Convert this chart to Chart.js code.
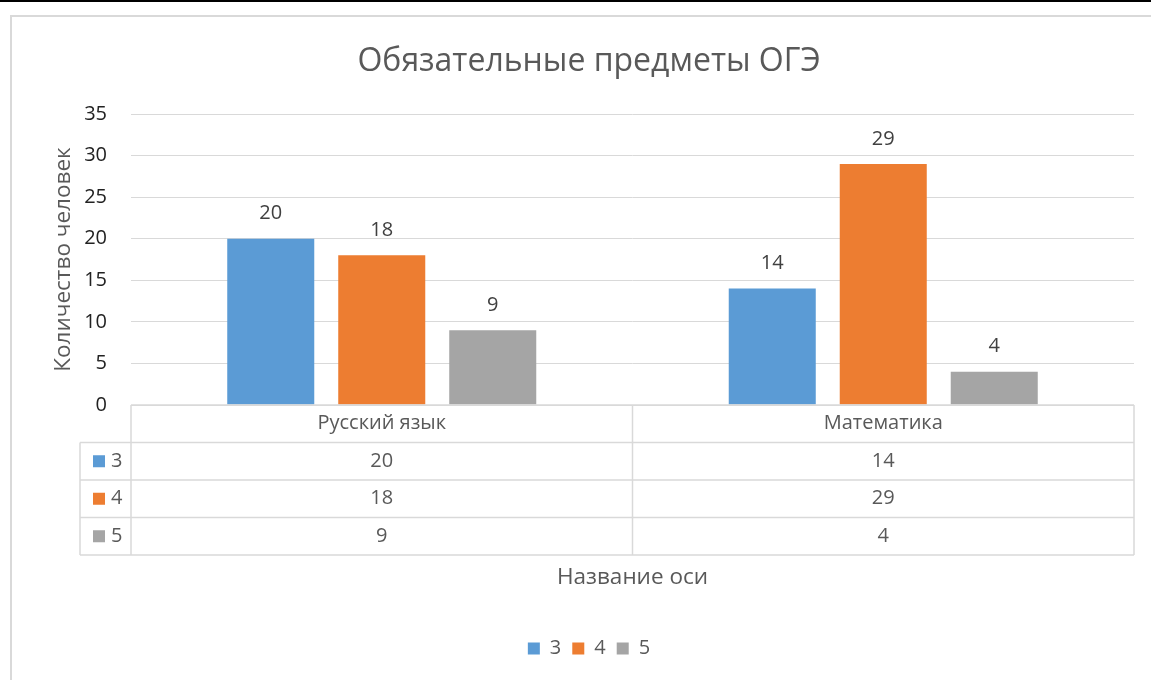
<!DOCTYPE html>
<html><head><meta charset="utf-8">
<script src="https://cdn.jsdelivr.net/npm/chart.js@4.4.1/dist/chart.umd.min.js"></script>
<style>
html,body{margin:0;padding:0;background:#fff;overflow:hidden;width:1151px;height:680px;}
#topline{position:absolute;left:0;top:0;width:1151px;height:2px;background:#000;}
#c{position:absolute;left:10px;top:15px;}
</style></head><body>
<div id="topline"></div>
<canvas id="c" width="1158" height="670"></canvas>
<script>
const chartTitle = 'Обязательные предметы ОГЭ';
const categories = ['Русский язык', 'Математика'];
const seriesNames = ['3', '4', '5'];
const grade3 = [20, 14];
const grade4 = [18, 29];
const grade5 = [9, 4];
const yMin = 0, yMax = 35, yStep = 5;
const yAxisTitle = 'Количество человек';
const xAxisTitle = 'Название оси';
const seriesColors = ['#5B9BD5', '#ED7D31', '#A5A5A5'];

const FONT = "'Open Sans', 'Noto Sans', sans-serif";
const TXT = '#595959';
const LINE = '#d9d9d9';
const SMALL = 20;
const seriesData = [grade3, grade4, grade5];

const framePlugin = {
  id: 'frame',
  beforeDraw(chart) {
    const ctx = chart.ctx;
    ctx.save();
    ctx.fillStyle = '#ffffff';
    ctx.fillRect(0, 0, chart.width, chart.height);
    ctx.fillStyle = LINE;
    ctx.fillRect(0, 0, chart.width, 2);
    ctx.fillRect(0, 0, 2, chart.height);
    ctx.restore();
  }
};

const labelsPlugin = {
  id: 'barLabels',
  afterDatasetsDraw(chart) {
    const ctx = chart.ctx;
    ctx.save();
    ctx.font = SMALL + 'px ' + FONT;
    ctx.fillStyle = '#404040';
    ctx.textAlign = 'center';
    ctx.textBaseline = 'middle';
    chart.data.datasets.forEach((ds, di) => {
      const meta = chart.getDatasetMeta(di);
      meta.data.forEach((bar, i) => {
        ctx.fillText(String(ds.data[i]), bar.x, bar.y - 25);
      });
    });
    ctx.restore();
  }
};

const tablePlugin = {
  id: 'dataTable',
  afterDraw(chart) {
    const ctx = chart.ctx;
    const area = chart.chartArea;
    const xs = chart.scales.x;
    const n = categories.length;
    const cw = (area.right - area.left) / n;
    const top = area.bottom;
    const rowH = 37.5;
    const legendLeft = 70;
    const rows = seriesNames.length;
    const bottom = top + rowH * (rows + 1);
    ctx.save();
    ctx.strokeStyle = LINE;
    ctx.lineWidth = 1.5;
    ctx.beginPath();
    ctx.moveTo(area.left, top); ctx.lineTo(area.right, top);
    for (let r = 1; r <= rows + 1; r++) {
      const y = top + rowH * r;
      ctx.moveTo(legendLeft, y); ctx.lineTo(area.right, y);
    }
    ctx.moveTo(legendLeft, top + rowH); ctx.lineTo(legendLeft, bottom);
    for (let k = 0; k <= n; k++) {
      const x = area.left + cw * k;
      ctx.moveTo(x, top); ctx.lineTo(x, bottom);
    }
    ctx.stroke();

    ctx.font = SMALL + 'px ' + FONT;
    ctx.fillStyle = TXT;
    ctx.textAlign = 'center';
    ctx.textBaseline = 'middle';
    categories.forEach((c, i) => {
      const cx = xs.getPixelForValue(i);
      ctx.fillText(c, cx, top + rowH / 2);
      seriesData.forEach((arr, r) => {
        ctx.fillText(String(arr[i]), cx, top + rowH * (r + 1) + rowH / 2);
      });
    });
    seriesNames.forEach((s, r) => {
      const cy = top + rowH * (r + 1) + rowH / 2;
      ctx.fillStyle = seriesColors[r];
      ctx.fillRect(legendLeft + 13, cy - 6, 12, 12);
      ctx.fillStyle = TXT;
      ctx.textAlign = 'left';
      ctx.fillText(s, legendLeft + 31, cy);
    });
    ctx.restore();
  }
};

new Chart(document.getElementById('c'), {
  type: 'bar',
  data: {
    labels: categories,
    datasets: seriesNames.map((s, i) => ({
      label: s,
      data: seriesData[i],
      backgroundColor: seriesColors[i],
      borderWidth: 0,
      categoryPercentage: 0.664,
      barPercentage: 0.784
    }))
  },
  options: {
    responsive: false,
    animation: false,
    devicePixelRatio: 1,
    layout: { padding: { left: 0, right: 0, top: 0, bottom: 16.5 } },
    plugins: {
      title: {
        display: true,
        text: chartTitle,
        color: TXT,
        font: { family: FONT, size: 32, weight: 'normal' },
        padding: { top: 28, bottom: 32.6 }
      },
      legend: {
        position: 'bottom',
        labels: {
          boxWidth: 12, boxHeight: 12, padding: 11,
          color: TXT,
          font: { family: FONT, size: SMALL }
        }
      },
      tooltip: { enabled: false }
    },
    scales: {
      x: {
        ticks: { display: false },
        grid: { display: false },
        border: { display: false },
        title: {
          display: true, text: xAxisTitle, color: TXT,
          font: { family: FONT, size: 22.5 },
          padding: { top: 0, bottom: 36 }
        },
        afterFit(scale) { scale.height = 222.5; }
      },
      y: {
        min: yMin, max: yMax,
        ticks: { stepSize: yStep, color: '#222', padding: 24, font: { family: FONT, size: SMALL } },
        grid: { color: LINE, lineWidth: 1, drawTicks: false },
        border: { display: false },
        title: {
          display: true, text: yAxisTitle, color: TXT,
          font: { family: FONT, size: 22.5 },
          padding: { top: 40, bottom: 0 }
        },
        afterFit(scale) { scale.width = 121; }
      },
      rightSpace: {
        position: 'right',
        display: true,
        ticks: { display: false },
        grid: { display: false },
        border: { display: false },
        afterFit(scale) { scale.width = 34; }
      }
    }
  },
  plugins: [framePlugin, labelsPlugin, tablePlugin]
});
</script>
</body></html>
